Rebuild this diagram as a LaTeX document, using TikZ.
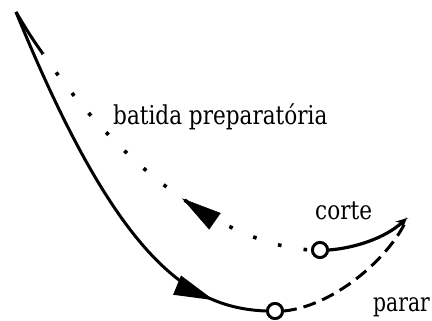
\documentclass[tikz,border=0pt]{standalone}
\usepackage{fontspec}
\setmainfont{DejaVu Serif}
\usetikzlibrary{arrows.meta,decorations.markings}
\tikzset{
  mainline/.style={line width=3pt},
  dotline/.style={line width=3.6pt, dash pattern=on 3.6pt off 22.4pt, dash phase=22pt},
  dashline/.style={line width=3pt, dash pattern=on 13pt off 7pt},
  cortline/.style={line width=3.2pt},
  endpt/.style={circle, draw, fill=white, line width=2.8pt, inner sep=0pt, minimum size=15pt},
  lbl/.style={inner sep=0pt, font=\fontsize{26}{30}\selectfont},
  bigtip/.style={decoration={markings, mark=at position #1 with {\arrow{Triangle[length=40pt,width=20pt]}}}, postaction=decorate}
}
\newcommand{\sq}[1]{\scalebox{0.83}[1]{#1}}
\begin{document}
\begin{tikzpicture}[x=1pt,y=-1pt]
\useasboundingbox (0,0) rectangle (432,321);
\coordinate (T) at (16,12);
\coordinate (R) at (407,218);
\coordinate (S) at (42.6,53.3);
\node[endpt] (B) at (275,311) {};
\node[endpt] (C) at (320,250) {};
% main solid stroke
\draw[mainline, bigtip=0.87] (T) .. controls (118,262) and (190,308) .. (B.west);
% preparatory beat (dotted), ending solid at the top
\draw[dotline] (C.west) .. controls (229.3,245.4) and (123.7,172.1) .. (S);
\path[bigtip=0.41] (C.west) .. controls (229.3,245.4) and (123.7,172.1) .. (S);
\draw[mainline] (S) .. controls (32.96,40.07) and (24.4,26.3) .. (T);
% corte
\draw[cortline, -{Stealth[length=11pt,width=10pt]}] (C.east) .. controls (355,248) and (385,238) .. (R);
% parar (dashed)
\draw[dashline] (B.east) .. controls (340,305) and (395,250) .. (R);
% redraw end points on top
\node[endpt] at (B) {};
\node[endpt] at (C) {};
% labels
\node[lbl, anchor=base west] (lb) at (113,125) {\sq{batida preparatória}};
\node[lbl, anchor=base west] (lc) at (315,219) {\sq{corte}};
\node[lbl, anchor=base east] (lp) at (430,311) {\scalebox{0.78}[1]{parar}};
\end{tikzpicture}
\end{document}
